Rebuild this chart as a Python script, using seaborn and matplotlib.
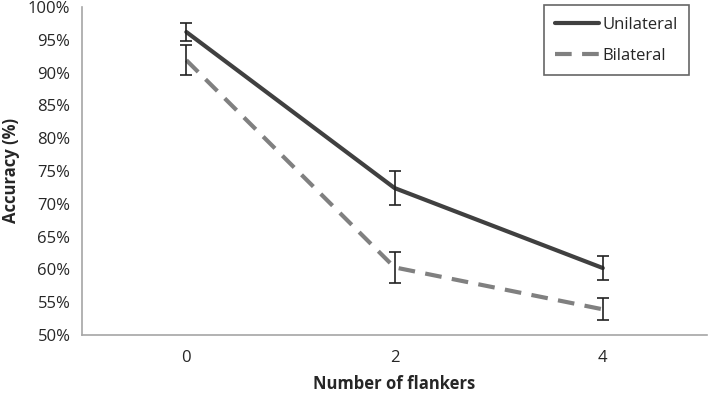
import pandas as pd
import matplotlib.pyplot as plt
import seaborn as sns
from matplotlib.ticker import PercentFormatter
from matplotlib.lines import Line2D

# データ
flankers = ["0", "2", "4"]
unilateral = [96.2, 72.4, 60.2]
unilateral_err = [1.4, 2.6, 1.8]
bilateral = [91.9, 60.3, 53.9]
bilateral_err = [2.3, 2.4, 1.7]

df = pd.DataFrame({
    "Flankers": flankers * 2,
    "Accuracy": unilateral + bilateral,
    "Condition": ["Unilateral"] * 3 + ["Bilateral"] * 3,
})

sns.set_style("white")
plt.rcParams['font.family'] = ['Open Sans', 'DejaVu Sans']

fig, ax = plt.subplots(figsize=(7.09, 3.94), dpi=100)
fig.subplots_adjust(left=0.116, right=0.997, top=0.982, bottom=0.150)

sns.lineplot(data=df, x="Flankers", y="Accuracy", hue="Condition", style="Condition",
             palette={"Unilateral": "#404040", "Bilateral": "#808080"},
             dashes={"Unilateral": "", "Bilateral": (4, 2.5)},
             linewidth=3, ax=ax, legend=False)

# エラーバー
ax.errorbar(flankers, unilateral, yerr=unilateral_err, fmt="none", ecolor="#222222",
            elinewidth=1.2, capsize=4, capthick=1.2)
ax.errorbar(flankers, bilateral, yerr=bilateral_err, fmt="none", ecolor="#222222",
            elinewidth=1.2, capsize=4, capthick=1.2)

ax.set_xlim(-0.5, 2.5)
ax.set_ylim(50, 100)
ax.set_yticks(range(50, 101, 5))
ax.yaxis.set_major_formatter(PercentFormatter(decimals=0))
ax.set_xticks([0, 1, 2])
ax.set_xticks([-0.5, 2.5], minor=True)

for s in ["top", "right"]:
    ax.spines[s].set_visible(False)
for s in ["left", "bottom"]:
    ax.spines[s].set_color("#a6a6a6")
    ax.spines[s].set_linewidth(1.2)

ax.tick_params(axis="both", which="both", direction="out", color="#a6a6a6",
               labelsize=12, labelcolor="#262626", length=5, width=1.2)
ax.tick_params(axis="x", pad=6)

ax.set_xlabel("Number of flankers", fontsize=12, fontweight="bold", labelpad=6)
ax.set_ylabel("Accuracy (%)", fontsize=12, fontweight="bold", labelpad=6)

# 凡例
handles = [Line2D([], [], color="#404040", lw=3, label="Unilateral"),
           Line2D([], [], color="#808080", lw=3, linestyle=(0, (4, 2.5)), label="Bilateral")]
leg = fig.legend(handles=handles, loc="upper right", bbox_to_anchor=(0.972, 0.987),
                 borderaxespad=0, fontsize=12, frameon=True, fancybox=False,
                 handlelength=2.6, borderpad=0.7, labelspacing=0.9, handletextpad=0.2)
leg.get_frame().set_edgecolor("#404040")
leg.get_frame().set_linewidth(1.2)

plt.savefig("out.png", dpi=100)
